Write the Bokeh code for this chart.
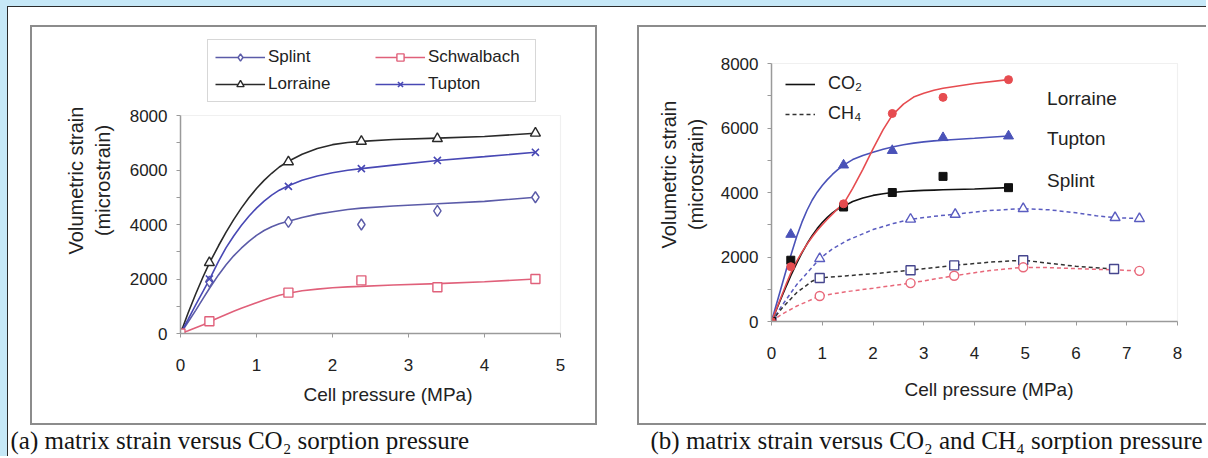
from bokeh.plotting import figure
from bokeh.models import Range1d, FixedTicker, Legend, LegendItem, Label, BoxAnnotation, Spacer
from bokeh.layouts import row, column
from bokeh.embed import file_html
from bokeh.resources import INLINE

SANS = "Liberation Sans"
SERIF = "Liberation Serif"

# ---------------- Panel (a): CO2 only ----------------
a_pressure = [0, 0.38, 1.42, 2.38, 3.38, 4.67]
a_splint = [0, 1900, 4100, 4000, 4500, 5000]
a_lorraine = [0, 2600, 6300, 7050, 7150, 7350]
a_tupton = [0, 2000, 5400, 6050, 6350, 6650]
a_schwalbach = [0, 450, 1500, 1950, 1700, 2000]

# fitted curves
a_fit_pressure = [0, 0.1, 0.2, 0.3, 0.38, 0.5, 0.6, 0.7, 0.8, 0.9, 1.0, 1.1, 1.2, 1.3, 1.42,
                  1.6, 1.8, 2.0, 2.2, 2.38, 2.8, 3.38, 4.0, 4.67]
a_fit_lorraine = [0, 750, 1450, 2100, 2580, 3220, 3720, 4180, 4600, 4980, 5320, 5620, 5880, 6110, 6320,
                  6580, 6790, 6930, 7010, 7050, 7120, 7170, 7230, 7350]
a_fit_tupton = [0, 520, 1050, 1560, 1980, 2650, 3150, 3580, 3960, 4300, 4600, 4860, 5080, 5260, 5420,
                5620, 5780, 5900, 5990, 6050, 6180, 6350, 6490, 6650]
a_fit_splint = [0, 420, 850, 1300, 1650, 2150, 2520, 2850, 3130, 3380, 3600, 3780, 3920, 4030, 4120,
                4260, 4380, 4470, 4550, 4600, 4680, 4760, 4850, 5000]
a_fit_schwalbach = [0, 100, 210, 320, 430, 580, 700, 815, 930, 1030, 1130, 1230, 1320, 1405, 1480,
                    1570, 1630, 1680, 1710, 1730, 1780, 1830, 1900, 2000]

# ---------------- Panel (b): CO2 and CH4 ----------------
b_co2_pressure = [0, 0.38, 1.42, 2.38, 3.38, 4.67]
b_co2_lorraine = [0, 1700, 3650, 6450, 6950, 7500]
b_co2_tupton = [0, 2700, 4850, 5300, 5700, 5750]
b_co2_splint = [0, 1900, 3550, 4000, 4500, 4150]

b_fit_pressure = [0, 0.1, 0.2, 0.3, 0.38, 0.5, 0.6, 0.7, 0.8, 0.9, 1.0, 1.1, 1.2, 1.3, 1.42,
                  1.6, 1.8, 2.0, 2.2, 2.38, 2.6, 2.8, 3.0, 3.2, 3.38, 4.0, 4.67]
b_fit_co2_lorraine = [0, 400, 800, 1200, 1500, 1880, 2150, 2400, 2620, 2820, 3000, 3170, 3330, 3490, 3650,
                      4130, 4720, 5350, 5950, 6400, 6740, 6960, 7080, 7170, 7230, 7380, 7500]
b_fit_co2_tupton = [0, 550, 1100, 1650, 2050, 2650, 3080, 3450, 3760, 4010, 4220, 4400, 4560, 4700, 4850,
                    5020, 5150, 5250, 5340, 5410, 5480, 5530, 5570, 5600, 5620, 5680, 5750]
b_fit_co2_splint = [0, 380, 760, 1130, 1420, 1820, 2130, 2410, 2660, 2880, 3070, 3230, 3370, 3480, 3570,
                    3720, 3830, 3910, 3960, 4000, 4030, 4050, 4065, 4075, 4085, 4110, 4150]

b_ch4_tupton_p = [0, 0.95, 2.74, 3.62, 4.96, 6.77, 7.25]
b_ch4_tupton = [0, 1950, 3170, 3320, 3500, 3220, 3190]
b_ch4_splint_p = [0, 0.95, 2.74, 3.6, 4.96, 6.75]
b_ch4_splint = [0, 1350, 1590, 1740, 1900, 1630]
b_ch4_lorraine_p = [0, 0.95, 2.74, 3.6, 4.96, 7.25]
b_ch4_lorraine = [0, 790, 1190, 1420, 1680, 1570]

b_fit_ch4_tupton_p = [0, 0.2, 0.5, 0.95, 1.2, 1.5, 2.0, 2.4, 2.74, 3.2, 3.62, 4.3, 4.96, 5.5, 6.0, 6.4, 6.77, 7.25]
b_fit_ch4_tupton = [0, 480, 1150, 1950, 2250, 2520, 2850, 3040, 3170, 3260, 3330, 3440, 3500, 3460, 3370, 3280, 3220, 3190]
b_fit_ch4_splint_p = [0, 0.2, 0.5, 0.8, 0.95, 1.5, 2.0, 2.74, 3.6, 4.3, 4.96, 5.5, 6.0, 6.75]
b_fit_ch4_splint = [0, 400, 900, 1250, 1350, 1420, 1480, 1590, 1740, 1840, 1900, 1800, 1710, 1630]
b_fit_ch4_lorraine_p = [0, 0.2, 0.5, 0.95, 1.5, 2.0, 2.74, 3.6, 4.3, 4.96, 5.5, 6.0, 6.75, 7.25]
b_fit_ch4_lorraine = [0, 220, 480, 790, 930, 1030, 1190, 1420, 1580, 1680, 1670, 1640, 1600, 1570]

y_ticks = [0, 2000, 4000, 6000, 8000]
y_minor = [1000, 3000, 5000, 7000]

TXT = "#222222"
AXC = "#9a9a9a"
BLUE = "#c6e8f7"
DARK = "#2b2b2b"
FRAMEC = "#8c8c8c"


def style(p, xticks, xmax, x_title_standoff, y_title_standoff):
    p.title.visible = False
    p.xgrid.visible = False
    p.ygrid.visible = False
    p.outline_line_color = None
    p.background_fill_color = "white"
    p.border_fill_color = "white"
    p.xaxis.ticker = FixedTicker(ticks=xticks)
    p.yaxis.ticker = FixedTicker(ticks=y_ticks, minor_ticks=y_minor)
    p.xaxis.bounds = (0, xmax)
    p.yaxis.bounds = (0, 8000)
    for ax in (p.xaxis[0], p.yaxis[0]):
        ax.axis_line_color = AXC
        ax.axis_line_width = 1.5
        ax.major_tick_line_color = AXC
        ax.minor_tick_line_color = AXC
        ax.major_tick_in = 0
        ax.major_tick_out = 4
        ax.minor_tick_in = 0
        ax.minor_tick_out = 4
        ax.major_label_text_font = SANS
        ax.major_label_text_font_size = "17px"
        ax.major_label_text_color = TXT
        ax.axis_label_text_font = SANS
        ax.axis_label_text_font_style = "normal"
        ax.axis_label_text_color = TXT
    p.xaxis.axis_label_text_font_size = "19px"
    p.yaxis.axis_label_text_font_size = "20px"
    p.xaxis.major_label_standoff = 21
    p.yaxis.major_label_standoff = 9
    p.xaxis.axis_label_standoff = x_title_standoff
    p.yaxis.axis_label_standoff = y_title_standoff
    p.xaxis.axis_label = "Cell pressure (MPa)"
    p.yaxis.axis_label = "Volumetric strain\n(microstrain)"
    # light grey plot-area border
    p.add_layout(BoxAnnotation(left=0, right=xmax, bottom=0, top=8000, fill_alpha=0,
                               fill_color=None, line_color="#cccccc", line_width=1.2,
                               level="underlay"))


PH = 396  # figure height (page y 27..423)

# ================= Left figure =================
W1 = 563
L1, B1 = 148, 90
fw1 = W1 - L1
fh1 = PH - B1
p1 = figure(width=W1, height=PH, output_backend="svg", toolbar_location=None,
            x_range=Range1d(0, 5 * fw1 / 380.0), y_range=Range1d(0, 8000 * fh1 / 218.0),
            min_border_left=L1, min_border_right=0, min_border_top=0, min_border_bottom=B1)
style(p1, [0, 1, 2, 3, 4, 5], 5, 10, 13)

c_splint = "#5b5ba8"
c_lor = "#2a2a2a"
c_tup = "#4848b4"
c_sch = "#e0607a"

l_sp = p1.line(a_fit_pressure, a_fit_splint, line_color=c_splint, line_width=1.6)
l_lo = p1.line(a_fit_pressure, a_fit_lorraine, line_color=c_lor, line_width=1.6)
l_tu = p1.line(a_fit_pressure, a_fit_tupton, line_color=c_tup, line_width=1.6)
l_sc = p1.line(a_fit_pressure, a_fit_schwalbach, line_color=c_sch, line_width=1.6)
m_sp = p1.scatter(a_pressure, a_splint, marker="diamond", size=11, line_color=c_splint, fill_color="white", line_width=1.4)
m_lo = p1.scatter(a_pressure, a_lorraine, marker="triangle", size=10, line_color=c_lor, fill_color="white", line_width=1.4)
m_tu = p1.scatter(a_pressure, a_tupton, marker="x", size=10, line_color=c_tup, line_width=1.6)
m_sc = p1.scatter(a_pressure, a_schwalbach, marker="square", size=9, line_color=c_sch, fill_color="white", line_width=1.4)

leg1 = Legend(items=[
    LegendItem(label="Splint", renderers=[l_sp, m_sp]),
    LegendItem(label="Lorraine", renderers=[l_lo, m_lo]),
    LegendItem(label="Schwalbach", renderers=[l_sc, m_sc]),
    LegendItem(label="Tupton", renderers=[l_tu, m_tu]),
], ncols=2, location=(27, 231), glyph_width=50, glyph_height=18,
    label_height=18, label_width=100, label_standoff=3, spacing=7, padding=7, margin=0,
    border_line_color="#b0b0b0", border_line_width=1.2, background_fill_color="white",
    label_text_font=SANS, label_text_font_size="17px", label_text_color=TXT)
p1.add_layout(leg1, "center")

# ================= Right figure =================
W2 = 567
L2, B2 = 132, 102
fw2 = W2 - L2
fh2 = PH - B2
p2 = figure(width=W2, height=PH, output_backend="svg", toolbar_location=None,
            x_range=Range1d(0, 8 * fw2 / 406.0), y_range=Range1d(0, 8000 * fh2 / 258.0),
            min_border_left=L2, min_border_right=0, min_border_top=0, min_border_bottom=B2)
style(p2, [0, 1, 2, 3, 4, 5, 6, 7, 8], 8, 17, 11)

c_red = "#e64c50"
c_blue = "#4a52b8"
c_blk = "#111111"
c_red2 = "#e8687a"
c_blue2 = "#5a5cc0"
c_sq2 = "#46468e"

d_tu = p2.line(b_fit_ch4_tupton_p, b_fit_ch4_tupton, line_color=c_blue2, line_width=1.5, line_dash="4 3")
d_sp = p2.line(b_fit_ch4_splint_p, b_fit_ch4_splint, line_color="#333333", line_width=1.5, line_dash="4 3")
d_lo = p2.line(b_fit_ch4_lorraine_p, b_fit_ch4_lorraine, line_color=c_red2, line_width=1.5, line_dash="4 3")
p2.scatter(b_ch4_tupton_p, b_ch4_tupton, marker="triangle", size=10, line_color=c_blue2, fill_color="white", line_width=1.4)
p2.scatter(b_ch4_splint_p, b_ch4_splint, marker="square", size=9, line_color=c_sq2, fill_color="white", line_width=1.4)
p2.scatter(b_ch4_lorraine_p, b_ch4_lorraine, marker="circle", size=9, line_color=c_red2, fill_color="white", line_width=1.4)

s_sp = p2.line(b_fit_pressure, b_fit_co2_splint, line_color=c_blk, line_width=1.6)
s_tu = p2.line(b_fit_pressure, b_fit_co2_tupton, line_color=c_blue, line_width=1.6)
s_lo = p2.line(b_fit_pressure, b_fit_co2_lorraine, line_color=c_red, line_width=1.6)
p2.scatter(b_co2_pressure, b_co2_splint, marker="square", size=8, line_color=c_blk, fill_color=c_blk)
p2.scatter(b_co2_pressure, b_co2_tupton, marker="triangle", size=10, line_color=c_blue, fill_color=c_blue)
p2.scatter(b_co2_pressure, b_co2_lorraine, marker="circle", size=8, line_color=c_red, fill_color=c_red)

leg2 = Legend(items=[
    LegendItem(label="CO₂", renderers=[s_sp]),
    LegendItem(label="CH₄", renderers=[d_sp]),
], location=(14, 197), glyph_width=30, glyph_height=20, label_height=20,
    label_standoff=13, spacing=9, padding=0, margin=0,
    border_line_alpha=0, background_fill_alpha=0,
    label_text_font=SANS, label_text_font_size="18px", label_text_color=TXT)
p2.add_layout(leg2, "center")

series_names = ["Lorraine", "Tupton", "Splint"]
name_y = [6920, 5680, 4380]
for name, yv in zip(series_names, name_y):
    p2.add_layout(Label(x=5.43, y=yv, text=name, text_font=SANS, text_font_size="19px",
                        text_color=TXT, text_baseline="middle", text_align="left"))

# ================= Caption strip =================
CW, CH = 1198, 31
cap = figure(width=CW, height=CH, output_backend="svg", toolbar_location=None,
             x_range=Range1d(0, 1), y_range=Range1d(0, 1),
             x_axis_location=None, y_axis_location=None, min_border=0)
cap.title.visible = False
cap.outline_line_color = None
cap.xgrid.visible = False
cap.ygrid.visible = False
captions = ["(a) matrix strain versus CO₂ sorption pressure",
            "(b) matrix strain versus CO₂ and CH₄ sorption pressure"]
cap_x = [2, 642]
for t, xx in zip(captions, cap_x):
    cap.add_layout(Label(x=xx, y=16, x_units="screen", y_units="screen", text=t,
                         text_font=SERIF, text_font_size="25px", text_color="#151515",
                         text_baseline="alphabetic", text_align="left"))


def sp(w, h, color=None):
    if color:
        return Spacer(width=w, height=h, styles={"background-color": color})
    return Spacer(width=w, height=h)


MH = 418
left_panel = column(sp(W1, 18), sp(W1, 2, FRAMEC), p1, sp(W1, 2, FRAMEC))
right_panel = column(sp(W2, 18), sp(W2, 2, FRAMEC), p2, sp(W2, 2, FRAMEC))
main_row = row(sp(22, MH),
               column(sp(2, 18), sp(2, 400, FRAMEC)),
               left_panel,
               column(sp(2, 18), sp(2, 400, FRAMEC)),
               sp(40, MH),
               column(sp(2, 18), sp(2, 400, FRAMEC)),
               right_panel)
content = column(main_row, cap)
body = row(sp(7, MH + CH, BLUE), sp(1, MH + CH, DARK), content)
top = row(sp(7, 7, BLUE), column(sp(1199, 6, BLUE), sp(1199, 1, DARK)))
page = column(top, body)

open("out.html", "w").write(file_html(page, INLINE))
